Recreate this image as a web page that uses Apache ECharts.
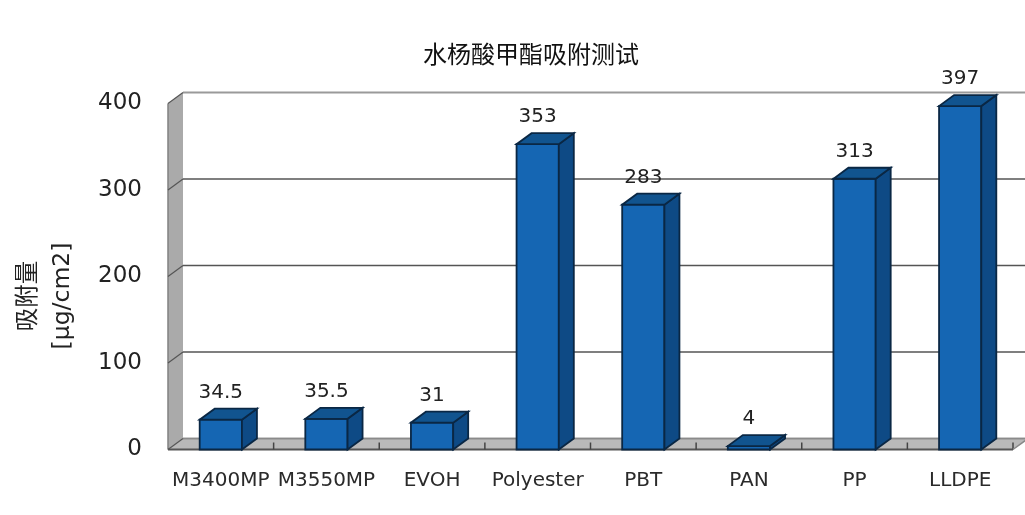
<!DOCTYPE html>
<html><head><meta charset="utf-8">
<style>html,body{margin:0;padding:0;background:#fff}#c{width:1025px;height:515px}</style>
<script src="https://cdn.jsdelivr.net/npm/echarts@6/dist/echarts.min.js"></script></head>
<body><div id="c"></div>
<script>
const categories=['M3400MP','M3550MP','EVOH','Polyester','PBT','PAN','PP','LLDPE'];
const values=[34.5,35.5,31,353,283,4,313,397];
const valueLabels=['34.5','35.5','31','353','283','4','313','397'];
const yTicks=[0,100,200,300,400];
const title='水杨酸甲酯吸附测试';
const yTitle='吸附量\n[μg/cm2]';

const DX=15,DY=-11;
const chart=echarts.init(document.getElementById('c'),null,{renderer:'canvas'});
const sLine=(x1,y1,x2,y2,stroke,w)=>({type:'line',shape:{x1,y1,x2,y2},style:{stroke,lineWidth:w||1.5}});
const poly=(points,fill,stroke,w)=>({type:'polygon',shape:{points},style:{fill,stroke:stroke||fill,lineWidth:w||0}});
chart.setOption({
  animation:false,
  backgroundColor:'#fff',
  title:{text:title,left:418,top:37,textStyle:{fontFamily:'Noto Sans CJK SC',fontSize:24,fontWeight:'normal',color:'#111'}},
  graphic:[{type:'text',x:46,y:296,rotation:Math.PI/2,
    style:{text:yTitle,align:'center',verticalAlign:'middle',fontFamily:'DejaVu Sans, Noto Sans CJK SC',fontSize:23.5,lineHeight:34,fill:'#222'}}],
  grid:{left:168,right:12,top:103.5,bottom:65.5,outerBoundsMode:'none'},
  xAxis:{type:'category',data:categories,axisLine:{show:false},axisTick:{show:false},
    axisLabel:{interval:0,margin:21,fontFamily:'DejaVu Sans',fontSize:20,color:'#2a2a2a'}},
  yAxis:{type:'value',min:0,max:400,interval:100,splitLine:{show:false},axisLine:{show:false},axisTick:{show:false},
    axisLabel:{margin:26,fontFamily:'DejaVu Sans',fontSize:23,color:'#222'}},
  series:[
   {type:'custom',coordinateSystem:'cartesian2d',silent:true,clip:false,z:1,
    data:yTicks.map(v=>[0,v]),
    encode:{x:0,y:1},
    renderItem(params,api){
      const v=api.value(1);
      const y=api.coord([0,v])[1];
      const y0=api.coord([0,0])[1], yTop=api.coord([0,400])[1];
      const cs=params.coordSys, xL=cs.x, xR=cs.x+cs.width;
      const kids=[];
      if(params.dataIndex===0){
        const step=cs.width/categories.length;
        kids.push(poly([[xL,y0],[xL+DX,y0+DY],[xL+DX,yTop+DY],[xL,yTop]],'#aaaaaa'));
        kids.push(poly([[xL,y0],[xR,y0],[xR+DX,y0+DY],[xL+DX,y0+DY]],'#b9b9b9'));
        kids.push(sLine(xL+DX,y0+DY,xR+DX,y0+DY,'#8a8a8a',1.5));
        kids.push(sLine(xL,y0,xL,yTop,'#808080',1.5));
        kids.push(sLine(xL,y0,xR,y0,'#555',2));
        for(let i=1;i<=categories.length;i++){
          kids.push(sLine(xL+i*step,y0,xL+i*step,y0-7,'#444',1.5));
        }
        kids.push(sLine(xR,y0,xR+DX,y0+DY,'#888',1.5));
      }
      const top=v===400;
      kids.push(sLine(xL+DX,y+DY,xR+DX,y+DY,top?'#9a9a9a':(v===0?'#8a8a8a':'#555'),top?2:1.5));
      kids.push(sLine(xL,y,xL+DX,y+DY,'#555',1.2));
      return {type:'group',children:kids};
    }},
   {type:'custom',coordinateSystem:'cartesian2d',silent:true,clip:false,z:3,
    data:categories.map((c,i)=>[i,values[i],valueLabels[i]]),
    encode:{x:0,y:1},
    renderItem(params,api){
      const p=api.coord([api.value(0),api.value(1)]);
      const base=api.coord([api.value(0),0]);
      const w=api.size([1,0])[0]*0.4, x1=p[0]-w/2, x2=p[0]+w/2, yT=p[1], yB=base[1];
      const edge='#0a2744';
      return {type:'group',children:[
        poly([[x1,yB],[x2,yB],[x2,yT],[x1,yT]],'#1566b3',edge,1.8),
        poly([[x2,yB],[x2+DX,yB+DY],[x2+DX,yT+DY],[x2,yT]],'#0e4a85',edge,1.8),
        poly([[x1,yT],[x2,yT],[x2+DX,yT+DY],[x1+DX,yT+DY]],'#11548f',edge,1.8),
        {type:'text',style:{text:String(api.value(2)),x:p[0],y:yT+DY-16,align:'center',verticalAlign:'middle',
          fontFamily:'DejaVu Sans',fontSize:20,fill:'#222'}}
      ]};
    }}
  ]
});
</script></body></html>
